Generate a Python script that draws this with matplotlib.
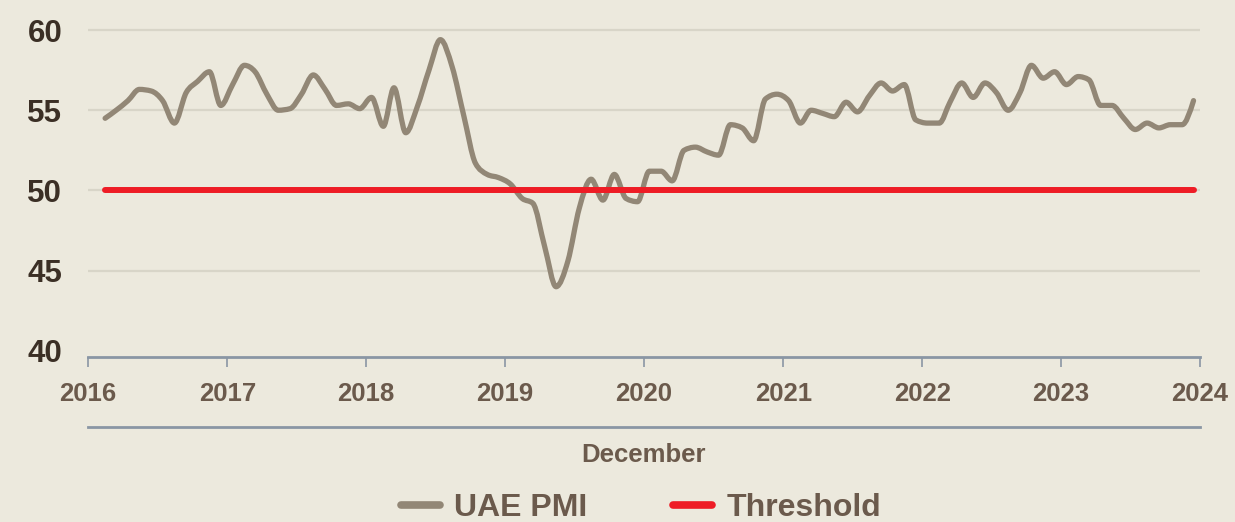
import matplotlib
matplotlib.use("Agg")
import matplotlib.pyplot as plt
import matplotlib.dates as mdates
from matplotlib.lines import Line2D
from matplotlib.path import Path
from matplotlib.patches import PathPatch
import pandas as pd
import numpy as np

# ---- data ----
start_month = "2016-02-01"
uae_pmi = [54.5, 55.0, 55.6, 56.3, 56.2, 55.6, 54.2, 56.1, 56.8, 57.4,
           55.3, 56.6, 57.8, 57.4, 56.0, 55.0, 55.1, 56.0, 57.2, 56.3,
           55.3, 55.4, 55.1, 55.8, 54.0, 56.4, 53.6, 55.2, 57.5, 59.4,
           57.7, 54.6, 51.7, 51.0, 50.8, 50.4, 49.5, 49.2, 46.5, 44.0,
           45.6, 48.9, 50.7, 49.4, 51.0, 49.5, 49.3, 51.2, 51.2, 50.6,
           52.5, 52.7, 52.4, 52.2, 54.1, 53.9, 53.1, 55.7, 56.0, 55.6,
           54.2, 55.0, 54.8, 54.6, 55.5, 54.9, 55.9, 56.7, 56.2, 56.6,
           54.4, 54.2, 54.2, 55.5, 56.7, 55.8, 56.7, 56.1, 55.0, 56.1,
           57.8, 57.0, 57.4, 56.6, 57.1, 56.9, 55.3, 55.3, 54.5, 53.8,
           54.2, 53.9, 54.1, 54.1, 55.6]
threshold_value = 50
year_ticks = [2016, 2017, 2018, 2019, 2020, 2021, 2022, 2023, 2024]
y_ticks = [40, 45, 50, 55, 60]
x_label = "December"
series_names = ["UAE PMI", "Threshold"]

# ---- style ----
BG = "#ece9dd"
PMI_COLOR = "#928776"
RED = "#ee1c25"
GRID = "#d8d5c8"
AXIS = "#8a96a4"
YLAB = "#3b2f25"
XLAB = "#6b5a4c"
FONT = ["Liberation Sans", "DejaVu Sans"]


def monotone_path(x, y):
    """Smooth monotone-x cubic Bezier path through the data points."""
    x = np.asarray(x, float)
    y = np.asarray(y, float)
    n = len(x)
    h = np.diff(x)
    s = np.diff(y) / h
    t = np.zeros(n)
    for i in range(1, n - 1):
        s0, s1 = s[i - 1], s[i]
        p = (s0 * h[i] + s1 * h[i - 1]) / (h[i - 1] + h[i])
        t[i] = (np.sign(s0) + np.sign(s1)) * min(abs(s0), abs(s1), 0.5 * abs(p))
    t[0] = (3 * s[0] - t[1]) / 2
    t[-1] = (3 * s[-1] - t[-2]) / 2
    verts = [(x[0], y[0])]
    codes = [Path.MOVETO]
    for i in range(n - 1):
        dx = h[i] / 3
        verts += [(x[i] + dx, y[i] + dx * t[i]),
                  (x[i + 1] - dx, y[i + 1] - dx * t[i + 1]),
                  (x[i + 1], y[i + 1])]
        codes += [Path.CURVE4] * 3
    return Path(verts, codes)


dates = pd.date_range(start_month, periods=len(uae_pmi), freq="MS") + pd.Timedelta(days=14)
xnum = mdates.date2num(dates.to_pydatetime())
threshold = [threshold_value] * len(uae_pmi)

fig = plt.figure(figsize=(12.35, 5.22), dpi=100, facecolor=BG)
ax = fig.add_axes([88 / 1235, 1 - 357.3 / 522, 1112 / 1235, (357.3 - 14) / 522])
ax.set_facecolor(BG)

# invisible line so the date axis is set up from the data
ax.plot(dates, uae_pmi, alpha=0)
ax.add_patch(PathPatch(monotone_path(xnum, uae_pmi), facecolor="none",
                       edgecolor=PMI_COLOR, lw=3.8, joinstyle="round",
                       capstyle="round", zorder=3))
ax.plot(dates, threshold, color=RED, lw=4.3, solid_capstyle="round", zorder=4)

ax.set_xlim(pd.Timestamp(f"{year_ticks[0]}-01-01"), pd.Timestamp(f"{year_ticks[-1]}-01-01"))
ax.set_ylim(39.6, 61.0)

for v in y_ticks[1:]:
    ax.axhline(v, color=GRID, lw=1.6, zorder=1)

ax.set_yticks(y_ticks)
ax.set_yticklabels([str(v) for v in y_ticks])
ax.tick_params(axis="y", length=0, pad=18.5, labelsize=22.5, labelcolor=YLAB)
for t in ax.get_yticklabels():
    t.set_fontweight("bold")
    t.set_family(FONT)

xt = [pd.Timestamp(f"{y}-01-01") for y in year_ticks]
ax.set_xticks(xt)
ax.set_xticklabels([str(y) for y in year_ticks])
ax.tick_params(axis="x", length=7.5, width=1.2, color=AXIS, direction="out",
               pad=10, labelsize=18.5, labelcolor=XLAB)
for t in ax.get_xticklabels():
    t.set_fontweight("bold")
    t.set_family(FONT)

for s in ["top", "right", "left"]:
    ax.spines[s].set_visible(False)
ax.spines["bottom"].set_color(AXIS)
ax.spines["bottom"].set_linewidth(2.0)

# secondary grouping line and label
fig.add_artist(Line2D([88 / 1235, 1200 / 1235], [1 - 426.5 / 522, 1 - 426.5 / 522],
                      color=AXIS, lw=2.0))
fig.text(644 / 1235, 1 - 455 / 522, x_label, ha="center", va="center",
         fontsize=18.5, fontweight="bold", color=XLAB, family=FONT)

handles = [Line2D([], [], color=PMI_COLOR, lw=5.5, solid_capstyle="round"),
           Line2D([], [], color=RED, lw=5.5, solid_capstyle="round")]
leg = fig.legend(handles, series_names, loc="center", bbox_to_anchor=(641 / 1235, 1 - 508 / 522),
                 ncol=2, frameon=False, handlelength=1.2, handletextpad=0.45,
                 columnspacing=2.7, prop={"family": FONT, "weight": "bold", "size": 23})
for t in leg.get_texts():
    t.set_color(XLAB)

fig.savefig("out.png", dpi=100, facecolor=BG)
